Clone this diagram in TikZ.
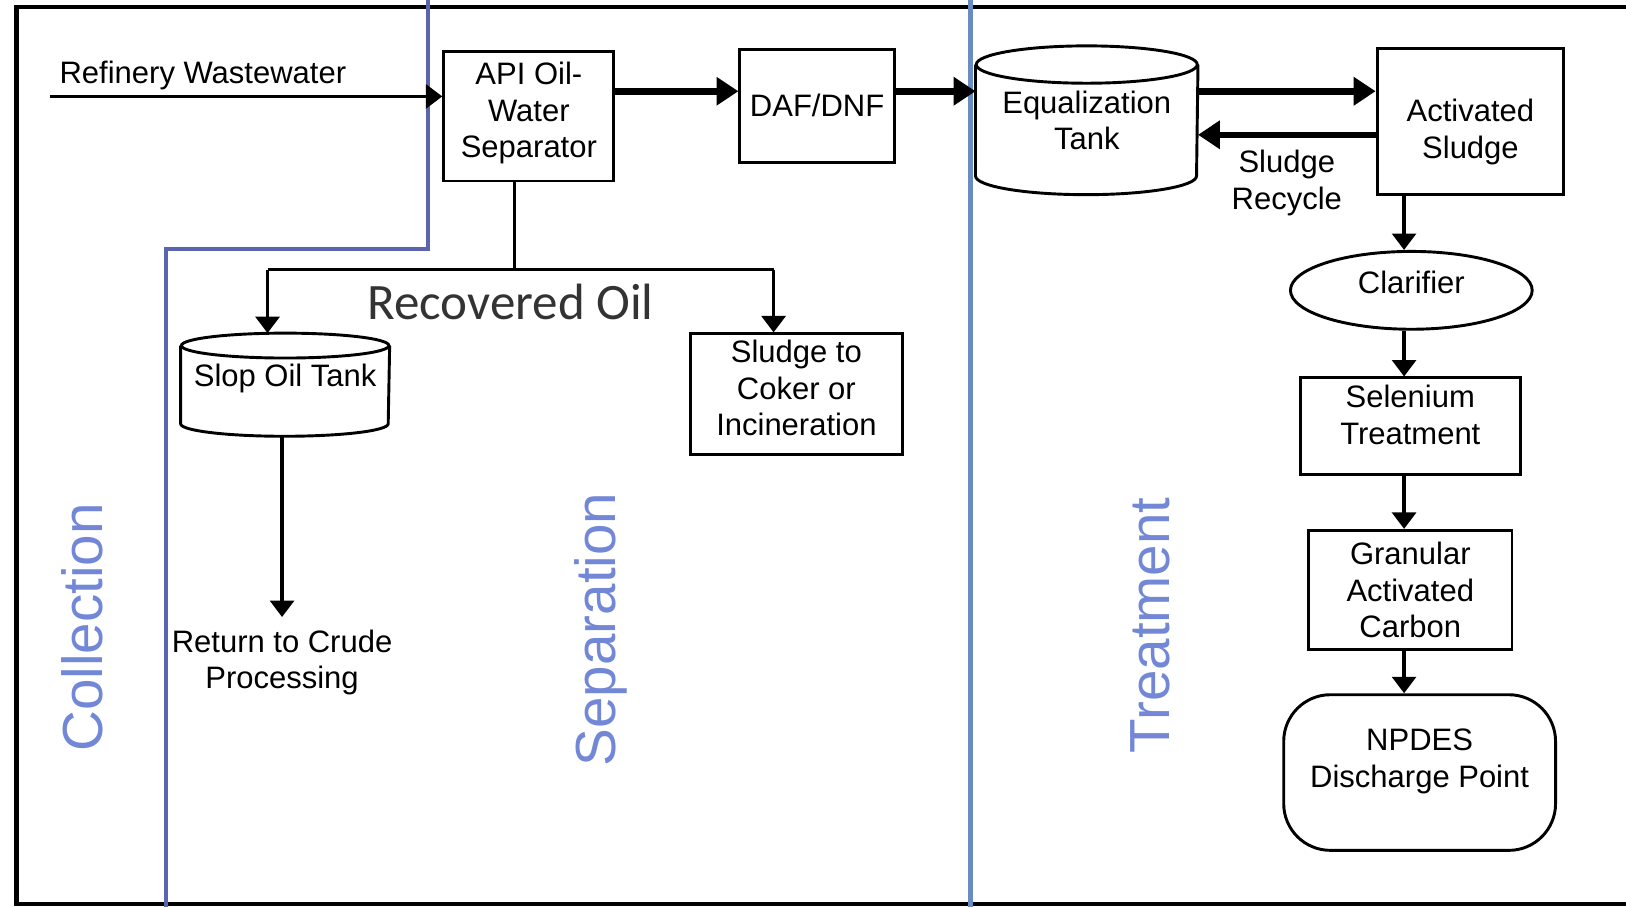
\documentclass[tikz,border=0pt]{standalone}
\usepackage{fontspec}
\setmainfont{Liberation Sans}
\newfontfamily\calibrifont{Carlito}
\usetikzlibrary{shapes.geometric,arrows.meta}
\definecolor{zoneA}{RGB}{90,100,175}
\definecolor{zoneB}{RGB}{105,140,195}
\definecolor{zonetext}{RGB}{115,135,215}
\tikzset{>={Triangle[length=4.5pt,width=6.5pt]},x=0.01cm,y=-0.01cm,
  font=\fontsize{8.5}{10}\selectfont,
  unit/.style={draw,line width=0.8pt,inner sep=0pt,align=center},
  tank/.style={inner sep=0pt,align=center},
  tankline/.style={line width=0.8pt},
  textup/.style={execute at end node={\rule[-#1]{0pt}{0pt}}},
  flow/.style={->,line width=1pt},
  heavy/.style={-{Triangle[length=6pt,width=7.5pt]},line width=1.8pt},
  zone/.style={rotate=90,font=\fontsize{15.5}{18}\selectfont,text=zonetext}}

\begin{document}
\begin{tikzpicture}
              \useasboundingbox (0,0) rectangle (1568,874);
              \fill[white] (0,0) rectangle (1568,874);
              \draw[line width=1.2pt] (1590,7) -- (16,7) -- (16,872) -- (1590,872);
              \draw[zoneA,line width=1.2pt] (413,-5) -- (413,240) -- (160,240) -- (160,880);
              \draw[zoneB,line width=1.2pt] (936,-5) -- (936,880);

              \node (coll) [zone] at (79,605) {Collection};
              \node (sep) [zone] at (579,607) {Separation};
              \node (treat) [zone] at (1109,603) {Treatment};

              \node (api) [unit,textup=3.4pt,minimum width=1.64cm,minimum height=1.25cm] at (510,112) {API Oil-\\Water\\Separator};
              \node (daf) [unit,minimum width=1.49cm,minimum height=1.09cm] at (788,102) {DAF/DNF};
              \node (eq) [tank,minimum width=2.13cm,minimum height=1.42cm] at (1048,116) {Equalization\\Tank};
              \node (act) [unit,minimum width=1.80cm,minimum height=1.41cm] at (1418,117) {\rule{0pt}{12pt}Activated\\Sludge};
              \node (clar) [unit,ellipse,textup=4.6pt,minimum width=2.33cm,minimum height=0.75cm] at (1361,280) {Clarifier};
              \node (sel) [unit,textup=6.3pt,minimum width=2.12cm,minimum height=0.93cm] at (1360,411) {Selenium\\Treatment};
              \node (gac) [unit,minimum width=1.96cm,minimum height=1.15cm] at (1360,569) {Granular\\Activated\\Carbon};
              \node (npdes) [unit,textup=8pt,rounded corners=0.45cm,minimum width=2.62cm,minimum height=1.50cm] at (1369,745) {NPDES\\Discharge Point};

              \node (slop) [tank,textup=5.1pt,minimum width=2.00cm,minimum height=0.98cm] at (275,371) {Slop Oil Tank};
              \node (sludge) [unit,textup=3.4pt,minimum width=2.04cm,minimum height=1.16cm] at (768,380) {Sludge to\\Coker or\\Incineration};
              \node (ret) [align=center] at (272,639) {Return to Crude\\Processing};

              \draw[tankline] ([yshift=-0.18cm]eq.north west) -- ([yshift=0.18cm]eq.south west)
                arc[start angle=180,end angle=360,x radius=1.065cm,y radius=0.18cm] -- ([yshift=-0.18cm]eq.north east);
              \draw[tankline] ([yshift=-0.18cm]eq.north) ellipse [x radius=1.065cm,y radius=0.18cm];
              \draw[tankline] ([yshift=-0.12cm]slop.north west) -- ([yshift=0.12cm]slop.south west)
                arc[start angle=180,end angle=360,x radius=1cm,y radius=0.12cm] -- ([yshift=-0.12cm]slop.north east);
              \draw[tankline] ([yshift=-0.12cm]slop.north) ellipse [x radius=1cm,y radius=0.12cm];

              \coordinate (ww) at (48,93);
              \coordinate (row) at (0,88);
              \coordinate (back) at (0,130);
              \coordinate (colx) at (1354,0);
              \coordinate (tee) at (496,260);
              \coordinate (oilL) at (258,260);
              \coordinate (oilR) at (746,260);

              \path[flow]
              (ww) edge node[pos=0.39,above,yshift=-2pt] {Refinery Wastewater} (ww -| api.west)
              (act.south -| colx) edge (clar.north -| colx)
              (clar.south -| colx) edge (sel.north -| colx)
              (sel.south -| colx) edge (gac.north -| colx)
              (gac.south -| colx) edge (npdes.north -| colx)
              (oilL) edge (oilL |- slop.north)
              (oilR) edge (oilR |- sludge.north)
              (slop.south -| ret) edge (ret.north)
              ;

              \path[heavy]
              (api.east |- row) edge (daf.west |- row)
              (daf.east |- row) edge (eq.west |- row)
              (eq.east |- row) edge (act.west |- row)
              (act.west |- back) edge node[below,align=center] {Sludge\\Recycle} (eq.east |- back)
              ;

              \draw[line width=1pt] (api.south -| tee) -- (tee);
              \draw[line width=1pt] (oilL) -- node[pos=0.48,below=0pt,font=\calibrifont\fontsize{14}{16}\selectfont,text=black!80] {Recovered Oil} (oilR);
            \end{tikzpicture}
\end{document}
